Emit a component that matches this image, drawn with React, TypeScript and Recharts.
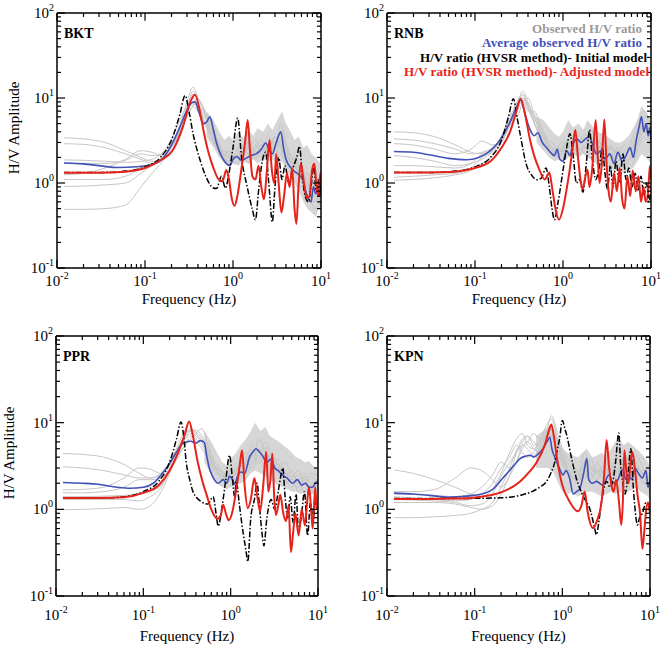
import React from 'react';
import { ComposedChart, Line, Area, XAxis, YAxis, ReferenceLine } from 'recharts';

// ---------- shared axis ticks ----------
const X_MAJOR = [0.01, 0.1, 1, 10];
const X_MINOR = [0.02, 0.03, 0.04, 0.05, 0.06, 0.07, 0.08, 0.09, 0.2, 0.3, 0.4, 0.5, 0.6, 0.7, 0.8, 0.9, 2, 3, 4, 5, 6, 7, 8, 9];
const X_EXP = ['-2', '-1', '0', '1'];
const Y_MAJOR = [0.1, 1, 10, 100];
const Y_MINOR = [0.2, 0.3, 0.4, 0.5, 0.6, 0.7, 0.8, 0.9, 2, 3, 4, 5, 6, 7, 8, 9, 20, 30, 40, 50, 60, 70, 80, 90];
const Y_EXP = ['-1', '0', '1', '2'];

// frequency grid of the individual observed curves
const GRID = [0.012, 0.02, 0.035, 0.06, 0.09, 0.12, 0.16, 0.2, 0.25, 0.3, 0.35, 0.4, 0.47, 0.55, 0.65, 0.75, 0.9, 1.05, 1.25, 1.5, 1.8, 2.1, 2.5, 3, 3.5, 4.2, 5, 6, 7, 8.3, 10];
// frequency grid of the dense observed envelope
const BAND_F = [0.5, 0.6, 0.7, 0.8, 0.9, 1.0, 1.15, 1.3, 1.5, 1.7, 1.9, 2.2, 2.5, 2.8, 3.2, 3.6, 4.0, 4.5, 5.0, 5.6, 6.3, 7.0, 7.8, 8.7, 9.5, 10];

// ---------- BKT ----------
const bktGray = [
  [3.4, 3.3, 3.0, 2.4, 2.0, 1.8, 2.0, 2.8, 4.5, 7.5, 12, 9, 6, 5.5, 3.5, 2.5, 2.2, 2.0, 2.5, 3.0, 2.2, 2.8, 2.4, 3.5, 2.8, 2.0, 1.6, 1.2, 0.9, 0.7, 0.8],
  [2.9, 2.85, 2.6, 2.2, 1.9, 1.7, 1.9, 2.6, 4.8, 9, 13.5, 10, 7, 4.5, 3.2, 2.4, 2.0, 2.6, 2.2, 2.6, 3.2, 2.4, 3.6, 2.5, 5.0, 2.4, 1.8, 1.4, 1.0, 0.8, 0.7],
  [1.87, 1.85, 1.8, 1.75, 1.8, 1.9, 2.3, 3.3, 5.5, 8, 9, 7.5, 5, 3.8, 2.8, 2.2, 1.8, 2.2, 2.8, 2.2, 2.6, 3.2, 2.2, 2.8, 3.8, 2.2, 1.5, 1.6, 0.9, 0.6, 0.9],
  [1.72, 1.7, 1.7, 1.85, 2.2, 2.1, 2.2, 3.0, 4.2, 6.5, 10, 8.5, 6.5, 4, 2.6, 2.0, 2.4, 1.7, 2.0, 3.0, 2.4, 2.0, 2.8, 3.0, 2.6, 1.8, 2.0, 1.3, 1.1, 0.5, 0.6],
  [1.25, 1.3, 1.5, 1.9, 2.4, 2.3, 2.1, 2.7, 4.0, 6, 8, 9, 7, 4.5, 3, 2.3, 2.0, 1.9, 2.4, 2.2, 1.9, 2.6, 3.0, 2.2, 3.2, 2.6, 1.6, 1.1, 0.8, 1.0, 0.6],
  [1.1, 1.1, 1.1, 1.2, 1.5, 1.7, 2.0, 2.8, 4.5, 7, 8.5, 8, 5.5, 3.5, 2.6, 2.2, 1.7, 2.2, 2.0, 2.7, 2.0, 2.3, 2.6, 3.5, 2.4, 2.1, 1.3, 1.5, 0.7, 0.9, 0.5],
  [0.91, 0.92, 0.95, 1.0, 1.3, 1.6, 2.0, 2.6, 4, 7.5, 11, 10, 7.5, 5, 3.2, 2.5, 2.2, 2.0, 2.3, 2.0, 2.8, 2.2, 2.0, 2.6, 3.0, 1.9, 1.7, 1.0, 1.3, 0.6, 0.8],
  [0.49, 0.49, 0.5, 0.55, 0.9, 1.3, 1.8, 2.6, 4.2, 6, 8, 7, 5.5, 4, 2.8, 2.1, 1.8, 1.9, 2.2, 1.7, 2.5, 2.8, 2.1, 2.4, 2.2, 1.6, 1.4, 1.2, 0.9, 0.7, 1.0],
];
const bktBandLow = [3.5, 2.6, 2.0, 1.7, 1.6, 1.7, 1.6, 1.8, 1.7, 1.9, 1.7, 1.9, 1.8, 1.9, 1.7, 1.8, 1.4, 1.2, 1.0, 0.8, 0.6, 0.5, 0.45, 0.4, 0.5, 0.5];
const bktBandHigh = [7, 5.5, 4, 3.2, 3.6, 3.2, 4.0, 3.4, 4.2, 3.6, 4.4, 4.0, 5.0, 4.2, 5.5, 7.0, 5.0, 4.0, 3.2, 3.5, 2.6, 2.8, 2.2, 2.0, 1.8, 1.6];
const bktBlue: number[][] = [[0.012, 1.72], [0.02, 1.68], [0.03, 1.6], [0.05, 1.52], [0.08, 1.55], [0.12, 1.65], [0.16, 1.95], [0.2, 2.8], [0.25, 4.6], [0.3, 7.2], [0.34, 8.8], [0.37, 9.0], [0.41, 6.8], [0.46, 5.0], [0.5, 5.2], [0.545, 6.0], [0.6, 4.2], [0.65, 2.95], [0.72, 2.2], [0.8, 1.8], [0.92, 1.6], [1.0, 1.9], [1.1, 2.05], [1.25, 1.85], [1.4, 1.95], [1.6, 2.1], [1.83, 2.2], [2.1, 2.5], [2.35, 2.95], [2.6, 2.4], [2.8, 2.2], [3.1, 3.0], [3.5, 4.0], [3.75, 2.6], [4.0, 1.9], [4.7, 1.45], [5.6, 1.25], [6.2, 1.1], [6.7, 0.8], [7.2, 0.65], [7.7, 0.6], [8.2, 0.9], [8.7, 0.75], [9.3, 0.85], [10, 0.8]];
const bktBlack: number[][] = [[0.012, 1.33], [0.03, 1.33], [0.06, 1.38], [0.1, 1.55], [0.15, 2.0], [0.2, 3.2], [0.25, 6.5], [0.285, 10.7], [0.32, 6.5], [0.35, 3.9], [0.42, 1.9], [0.5, 1.15], [0.59, 0.88], [0.65, 0.86], [0.74, 1.2], [0.82, 0.87], [0.9, 1.3], [1.0, 2.6], [1.13, 5.8], [1.25, 2.0], [1.45, 0.9], [1.65, 0.5], [1.8, 0.37], [1.95, 0.8], [2.15, 1.8], [2.35, 2.3], [2.55, 1.0], [2.8, 0.35], [3.0, 0.9], [3.3, 2.0], [3.6, 1.1], [3.9, 1.6], [4.3, 1.0], [4.8, 1.5], [5.3, 2.0], [5.7, 2.7], [6.1, 1.3], [6.6, 0.7], [7.2, 0.6], [7.7, 0.9], [8.3, 1.6], [8.8, 0.8], [9.3, 1.1], [9.7, 0.7], [10, 1.0]];
const bktRed: number[][] = [[0.012, 1.32], [0.03, 1.32], [0.06, 1.36], [0.1, 1.5], [0.15, 1.85], [0.21, 2.5], [0.27, 4.6], [0.32, 8.5], [0.37, 10.9], [0.42, 7], [0.47, 3.8], [0.52, 2.4], [0.6, 1.5], [0.68, 1.12], [0.76, 1.05], [0.84, 1.42], [0.9, 1.1], [0.97, 0.65], [1.04, 0.54], [1.12, 0.7], [1.25, 1.5], [1.38, 3.2], [1.47, 5.5], [1.56, 2.4], [1.66, 1.2], [1.8, 1.1], [1.95, 1.6], [2.1, 0.9], [2.25, 0.64], [2.4, 1.2], [2.6, 3.2], [2.75, 1.5], [2.95, 1.0], [3.1, 2.2], [3.3, 1.0], [3.55, 0.45], [3.8, 0.7], [4.1, 1.3], [4.4, 0.9], [4.7, 1.5], [5.0, 0.5], [5.25, 0.33], [5.55, 0.9], [5.9, 1.7], [6.4, 1.0], [6.9, 0.66], [7.4, 0.7], [7.9, 1.4], [8.4, 1.7], [8.9, 0.9], [9.4, 0.7], [9.8, 1.3], [10, 1.0]];

// ---------- RNB ----------
const rnbGray = [
  [4.0, 3.9, 3.5, 2.8, 2.3, 2.2, 2.5, 3.6, 6, 9, 11, 8, 5.5, 4.5, 3.2, 2.6, 2.4, 2.8, 3.4, 3.0, 3.8, 2.6, 3.2, 2.4, 2.6, 2.2, 2.8, 2.4, 3.5, 5.5, 3.5],
  [3.3, 3.2, 2.9, 2.5, 2.2, 2.3, 2.6, 3.5, 5.5, 8.5, 12, 9, 6, 4, 3, 2.4, 2.8, 3.2, 2.6, 3.6, 3.0, 4.2, 2.6, 3.0, 2.0, 2.6, 2.0, 3.2, 5, 7, 4],
  [2.9, 2.8, 2.5, 2.2, 2.5, 3.1, 2.8, 3.2, 5, 7, 9.5, 7, 7, 5, 3.4, 3.0, 2.5, 2.3, 3.0, 2.5, 2.8, 3.4, 2.2, 2.8, 2.4, 1.8, 2.4, 2.8, 4.2, 6, 5],
  [2.1, 2.0, 1.8, 1.6, 1.7, 1.9, 2.4, 3.4, 5.5, 8, 10, 7.5, 5, 3.5, 2.8, 2.2, 2.6, 2.4, 2.8, 3.2, 2.6, 3.0, 2.4, 2.0, 2.6, 2.2, 1.6, 2.2, 3, 4.5, 3],
  [1.6, 1.6, 1.55, 1.5, 1.7, 2.2, 2.6, 3, 5, 8, 11, 8, 6, 4.2, 3.0, 2.6, 2.0, 2.6, 2.2, 2.8, 3.4, 2.4, 3.0, 2.6, 2.0, 2.4, 2.0, 1.6, 2.4, 3.5, 2.6],
  [1.17, 1.2, 1.25, 1.3, 1.5, 2, 2.4, 3.2, 6.5, 6, 9, 10, 6.5, 4.8, 3.2, 2.4, 2.2, 3.0, 2.4, 2.6, 2.2, 3.0, 2.6, 2.2, 2.8, 1.8, 2.2, 2.6, 3.5, 5, 3.8],
  [1.08, 1.1, 1.15, 1.25, 1.4, 1.7, 2.1, 3, 4.8, 7.5, 10, 8.5, 5.2, 3.6, 2.6, 2.2, 2.0, 2.4, 3.2, 2.2, 2.6, 2.2, 2.8, 2.0, 2.2, 1.6, 1.8, 2.0, 2.8, 4, 2.8],
];
const rnbBandLow = [3, 2.4, 2.0, 1.8, 1.9, 1.8, 2.0, 2.2, 2.0, 2.2, 2.0, 1.8, 1.6, 1.6, 1.5, 1.4, 1.4, 1.3, 1.3, 1.4, 1.5, 1.8, 2.2, 2.0, 1.8, 1.6];
const rnbBandHigh = [6, 5.5, 4.5, 3.8, 3.5, 4.0, 5.5, 4.5, 5.0, 4.2, 5.5, 4.5, 4.0, 3.8, 3.5, 3.2, 3.0, 3.0, 3.2, 3.6, 4.5, 5.5, 8.0, 7.0, 6.0, 5.0];
const rnbBlue: number[][] = [[0.012, 2.35], [0.02, 2.3], [0.03, 2.15], [0.05, 1.95], [0.08, 1.88], [0.11, 2.0], [0.15, 2.4], [0.2, 3.4], [0.25, 5.2], [0.3, 8], [0.33, 9.5], [0.37, 6.5], [0.42, 4.3], [0.47, 3.6], [0.52, 3.9], [0.58, 3.0], [0.65, 2.6], [0.72, 2.3], [0.8, 2.1], [0.86, 2.5], [0.92, 1.9], [1.0, 1.8], [1.1, 2.4], [1.2, 2.1], [1.3, 2.9], [1.45, 3.3], [1.6, 3.0], [1.8, 3.3], [2.0, 3.5], [2.2, 2.7], [2.4, 2.2], [2.7, 2.4], [3.0, 1.9], [3.4, 2.2], [3.8, 1.7], [4.2, 2.3], [4.7, 1.8], [5.2, 2.1], [5.8, 2.6], [6.3, 2.0], [6.8, 3.2], [7.3, 4.5], [7.8, 6.0], [8.3, 4.0], [8.8, 5.0], [9.3, 3.6], [9.7, 4.5], [10, 3.2]];
const rnbBlack: number[][] = [[0.012, 1.33], [0.03, 1.33], [0.06, 1.38], [0.1, 1.55], [0.15, 2.0], [0.2, 3.2], [0.24, 6], [0.273, 9.8], [0.3, 6], [0.33, 3.5], [0.38, 1.7], [0.45, 1.2], [0.5, 1.09], [0.57, 1.15], [0.64, 1.5], [0.7, 0.9], [0.75, 0.5], [0.8, 0.37], [0.88, 0.6], [1.0, 1.4], [1.1, 2.6], [1.2, 3.8], [1.3, 2.2], [1.42, 1.0], [1.55, 1.1], [1.68, 0.78], [1.85, 1.8], [2.0, 4.2], [2.15, 2.0], [2.35, 1.1], [2.6, 1.6], [2.8, 2.6], [3.0, 1.3], [3.2, 0.85], [3.45, 1.6], [3.7, 0.9], [4.0, 1.8], [4.4, 1.0], [4.8, 2.2], [5.2, 1.1], [5.6, 1.5], [6.1, 0.9], [6.6, 1.3], [7.1, 0.8], [7.7, 1.2], [8.3, 0.7], [8.9, 1.0], [9.5, 0.6], [10, 0.9]];
const rnbRed: number[][] = [[0.012, 1.33], [0.03, 1.33], [0.06, 1.36], [0.1, 1.5], [0.15, 1.8], [0.2, 2.6], [0.25, 4], [0.29, 6.5], [0.33, 9.8], [0.37, 6.5], [0.42, 3.3], [0.47, 2.1], [0.53, 1.5], [0.62, 1.1], [0.7, 1.33], [0.75, 0.9], [0.82, 0.5], [0.9, 0.37], [1.0, 0.5], [1.1, 0.85], [1.2, 1.5], [1.3, 2.8], [1.38, 4.2], [1.48, 2.0], [1.6, 1.0], [1.67, 0.84], [1.8, 1.2], [1.9, 1.43], [2.0, 0.9], [2.15, 1.5], [2.35, 5.5], [2.5, 1.8], [2.6, 1.0], [2.75, 1.6], [2.95, 5.6], [3.1, 2.0], [3.3, 0.8], [3.5, 0.6], [3.8, 1.3], [4.1, 0.8], [4.4, 1.5], [4.7, 0.65], [5.0, 0.5], [5.4, 1.2], [5.8, 0.7], [6.2, 1.4], [6.7, 0.8], [7.2, 1.2], [7.7, 0.6], [8.2, 0.9], [8.7, 0.6], [9.3, 0.8], [9.7, 1.6], [10, 1.1]];

// ---------- PPR ----------
const pprGray = [
  [4.4, 4.3, 4.0, 3.3, 2.6, 2.3, 2.5, 3.3, 5, 7, 8.5, 7.5, 6, 4.5, 3.2, 2.5, 2.3, 2.8, 3.2, 4, 5.5, 4.5, 6, 4, 3.2, 2.6, 2.4, 2.8, 2.2, 2.6, 2.4],
  [3.1, 3.0, 2.8, 2.5, 2.3, 2.3, 2.6, 3.5, 5.5, 8, 8, 6.5, 5.5, 4.2, 3.0, 2.8, 2.6, 3.0, 3.6, 4.5, 3.5, 6.5, 4.5, 3.5, 2.8, 3.5, 2.5, 2.2, 2.6, 2.0, 2.2],
  [1.68, 1.7, 1.8, 2.3, 3.0, 2.9, 2.6, 3.2, 4.6, 6.5, 7.5, 8.2, 7, 5, 3.3, 2.8, 2.5, 2.6, 3.0, 3.6, 4.8, 3.8, 5.2, 3.2, 3.8, 2.8, 2.2, 2.5, 2.0, 2.4, 1.9],
  [1.55, 1.55, 1.6, 1.8, 2.2, 2.2, 2.3, 3.0, 4.2, 5.5, 6.5, 7.5, 8.5, 5.5, 3.6, 3.0, 2.2, 2.8, 2.6, 3.2, 4.0, 5.0, 3.5, 4.5, 3.0, 2.4, 2.8, 2.0, 2.2, 1.7, 2.0],
  [1.4, 1.4, 1.42, 1.45, 1.5, 1.6, 1.9, 2.7, 4, 5.5, 7, 6, 5, 3.8, 2.8, 2.4, 2.0, 2.4, 2.8, 2.6, 3.5, 4.2, 3.0, 3.6, 2.6, 2.2, 1.8, 2.2, 1.6, 1.9, 1.5],
  [0.99, 1.0, 1.02, 1.05, 1.0, 1.1, 1.6, 2.6, 4.5, 6.5, 8, 7, 6, 4.2, 3.0, 2.6, 2.2, 2.2, 3.2, 3.0, 4.2, 3.4, 4.5, 3.0, 2.8, 2.6, 2.0, 1.8, 2.4, 1.6, 1.8],
  [1.3, 1.3, 1.3, 1.3, 1.25, 1.4, 1.8, 2.8, 5, 7, 8.5, 7.8, 6.5, 4.5, 3.2, 2.5, 2.4, 2.6, 2.4, 3.6, 3.0, 4.6, 3.6, 2.8, 3.4, 2.0, 2.2, 1.6, 2.0, 1.5, 2.3],
];
const pprBandLow = [3.5, 2.5, 2.0, 1.8, 1.7, 1.8, 1.9, 2.0, 2.2, 2.6, 2.8, 2.6, 2.4, 2.2, 2.0, 1.9, 1.8, 1.7, 1.6, 1.6, 1.5, 1.6, 1.5, 1.5, 1.6, 1.6];
const pprBandHigh = [8, 6, 4.5, 3.5, 3.2, 3.8, 4.5, 5.5, 6.5, 8, 10, 8, 9, 7, 6.5, 6, 5.5, 5, 4.5, 4, 3.8, 3.5, 3.6, 3.2, 3, 2.8];
const pprBlue: number[][] = [[0.012, 2.04], [0.02, 2.0], [0.03, 1.95], [0.05, 1.8], [0.07, 1.75], [0.1, 1.8], [0.13, 2.0], [0.16, 2.5], [0.2, 3.4], [0.24, 4.6], [0.27, 5.5], [0.3, 5.9], [0.35, 6.1], [0.4, 5.8], [0.45, 6.2], [0.5, 5.9], [0.53, 4.2], [0.57, 3.0], [0.62, 2.4], [0.72, 2.0], [0.82, 2.2], [0.9, 2.0], [0.97, 2.4], [1.05, 2.2], [1.11, 1.95], [1.2, 2.4], [1.3, 2.7], [1.45, 2.6], [1.63, 3.9], [1.8, 4.6], [1.95, 5.0], [2.1, 4.7], [2.3, 4.2], [2.6, 3.5], [2.9, 3.8], [3.2, 3.0], [3.5, 2.8], [3.9, 2.5], [4.4, 2.3], [5.1, 2.0], [5.8, 2.2], [6.5, 1.9], [7.2, 2.0], [7.9, 1.8], [8.6, 1.8], [9.3, 2.0], [10, 2.1]];
const pprBlack: number[][] = [[0.012, 1.35], [0.03, 1.35], [0.06, 1.4], [0.1, 1.6], [0.15, 2.1], [0.2, 3.5], [0.24, 6.5], [0.27, 10.2], [0.29, 7], [0.31, 3.5], [0.34, 2.2], [0.37, 1.6], [0.46, 1.23], [0.55, 1.15], [0.63, 1.4], [0.68, 0.9], [0.72, 0.64], [0.8, 1.1], [0.88, 2.2], [0.97, 4.2], [1.05, 2.2], [1.11, 1.4], [1.16, 2.1], [1.25, 1.2], [1.33, 0.73], [1.5, 0.33], [1.57, 0.25], [1.7, 0.8], [1.87, 1.3], [2.0, 2.0], [2.15, 1.0], [2.3, 0.5], [2.4, 0.38], [2.6, 0.8], [2.9, 1.3], [3.2, 1.0], [3.5, 1.6], [3.8, 2.6], [3.95, 3.0], [4.2, 1.4], [4.5, 0.8], [4.8, 1.4], [5.2, 0.7], [5.6, 1.5], [6.0, 0.55], [6.5, 0.9], [7.0, 1.6], [7.6, 0.5], [8.2, 1.2], [8.8, 0.8], [9.4, 1.2], [10, 0.9]];
const pprRed: number[][] = [[0.012, 1.35], [0.03, 1.35], [0.06, 1.38], [0.1, 1.55], [0.15, 1.9], [0.2, 2.8], [0.25, 4.5], [0.3, 7.5], [0.335, 10.3], [0.37, 7], [0.42, 3.5], [0.47, 2.2], [0.53, 1.47], [0.6, 1.0], [0.7, 0.78], [0.77, 0.85], [0.82, 1.13], [0.88, 0.9], [0.95, 0.75], [1.05, 0.95], [1.15, 1.6], [1.27, 3.2], [1.35, 4.8], [1.45, 1.8], [1.57, 1.03], [1.7, 1.3], [1.87, 2.3], [2.0, 1.5], [2.17, 0.95], [2.35, 1.8], [2.55, 4.6], [2.7, 1.6], [2.85, 2.2], [3.0, 4.4], [3.15, 1.4], [3.3, 0.86], [3.5, 1.1], [3.7, 1.47], [4.0, 0.9], [4.3, 0.73], [4.6, 1.1], [4.9, 0.32], [5.2, 0.55], [5.5, 0.9], [6.0, 0.5], [6.5, 1.0], [7.1, 0.65], [7.5, 1.2], [7.9, 1.8], [8.4, 0.9], [8.7, 0.6], [9.3, 1.8], [9.7, 1.0], [10, 1.2]];

// ---------- KPN ----------
const kpnGray = [
  [2.85, 2.6, 2.2, 1.8, 1.5, 1.4, 1.7, 2.6, 4.5, 6.5, 7.5, 5.5, 5, 6, 7, 8, 5, 3.5, 2.5, 2.2, 3.5, 2.4, 2.8, 2.4, 3.2, 2.6, 3.0, 3.5, 2.6, 2.2, 1.6],
  [1.6, 1.6, 1.7, 2.3, 3.0, 2.8, 2.2, 1.8, 2.5, 4.5, 6.5, 7, 5.5, 6, 8, 7, 4.5, 3, 2.8, 2.4, 4.5, 3, 2.6, 3.2, 2.8, 4, 3.2, 4.5, 3.5, 2.4, 2.0],
  [1.5, 1.48, 1.45, 1.4, 1.5, 1.8, 2.5, 3.5, 3.0, 3.5, 5, 6, 7.5, 6.5, 9, 11, 6, 4, 3, 2.5, 3.0, 2.6, 3.4, 2.6, 2.2, 3.5, 2.6, 3.0, 4.2, 3.0, 2.2],
  [1.4, 1.35, 1.3, 1.25, 1.3, 1.5, 2.0, 3.0, 4, 5.5, 4.5, 4, 4.5, 6, 7.5, 12, 7, 4.5, 3.5, 2.6, 2.4, 3.8, 2.4, 2.8, 3.6, 2.4, 4, 2.6, 3, 2.6, 1.8],
  [1.3, 1.28, 1.25, 1.2, 1.1, 1.15, 1.5, 2.4, 3.5, 4.5, 5.5, 5.0, 4.2, 5, 7, 9, 6, 3.8, 2.6, 2.8, 2.2, 3, 2.8, 2.2, 2.6, 3.0, 2.4, 3.2, 2.4, 2.8, 2.4],
  [1.2, 1.2, 1.2, 1.15, 1.05, 1.0, 1.1, 1.5, 2.4, 3.5, 5.5, 6, 5, 4.5, 6, 7, 5.5, 3.5, 2.4, 2.2, 2.6, 2.2, 3, 2.6, 3.0, 2.2, 2.6, 2.8, 2.2, 2.6, 1.6],
  [0.8, 0.8, 0.82, 0.85, 0.9, 1.0, 1.2, 1.8, 3.0, 4.8, 6, 7, 6, 5.5, 7, 8.5, 5, 3.2, 2.6, 2.0, 2.8, 2.6, 2.2, 3.0, 2.4, 2.8, 2.2, 2.4, 3.0, 2.0, 2.4],
];
const kpnBandLow = [3, 3, 3, 2.6, 2.0, 1.6, 1.5, 1.6, 1.4, 1.5, 1.6, 1.6, 1.5, 1.4, 1.5, 1.6, 1.5, 1.6, 1.5, 1.6, 1.7, 1.8, 1.6, 1.5, 1.4, 1.3];
const kpnBandHigh = [7, 8, 9, 8, 6, 5, 4.5, 4.2, 4.0, 4.5, 5.0, 4.0, 4.2, 4.5, 4.0, 5.0, 6, 6.5, 5.5, 6.0, 5.5, 5.0, 4.5, 4.0, 3.5, 3.0];
const kpnBlue: number[][] = [[0.012, 1.54], [0.02, 1.5], [0.03, 1.45], [0.05, 1.38], [0.08, 1.42], [0.12, 1.5], [0.16, 1.7], [0.21, 2.3], [0.25, 2.8], [0.28, 3.2], [0.33, 3.85], [0.38, 4.1], [0.43, 4.2], [0.47, 4.0], [0.51, 4.2], [0.6, 5.0], [0.68, 6.2], [0.72, 6.8], [0.76, 5.0], [0.82, 4.0], [0.9, 3.2], [1.02, 2.5], [1.1, 2.8], [1.21, 2.3], [1.33, 1.5], [1.45, 1.6], [1.57, 1.7], [1.75, 2.6], [1.9, 3.85], [2.0, 2.2], [2.2, 2.0], [2.45, 2.1], [2.9, 1.9], [3.4, 2.5], [3.8, 2.0], [4.2, 2.1], [4.9, 2.9], [5.3, 2.2], [5.7, 2.5], [6.2, 2.2], [6.7, 3.0], [7.4, 2.6], [8.2, 2.3], [9.0, 2.8], [9.5, 1.8], [10, 2.2]];
const kpnBlack: number[][] = [[0.012, 1.33], [0.03, 1.33], [0.06, 1.33], [0.1, 1.34], [0.2, 1.36], [0.33, 1.45], [0.45, 1.6], [0.55, 1.8], [0.66, 2.1], [0.75, 2.7], [0.82, 3.5], [0.88, 5], [0.93, 6.5], [1.0, 10.6], [1.07, 8.5], [1.15, 6.5], [1.21, 5.0], [1.32, 3.3], [1.44, 2.3], [1.7, 1.47], [2.1, 0.95], [2.3, 0.65], [2.45, 0.51], [2.6, 0.7], [2.77, 1.13], [3.0, 1.8], [3.2, 2.1], [3.5, 1.8], [3.8, 2.2], [4.05, 3.5], [4.4, 7.6], [4.65, 3.0], [4.9, 2.0], [5.2, 1.5], [5.6, 2.5], [6.05, 5.0], [6.4, 2.0], [6.7, 1.1], [7.2, 0.66], [7.6, 0.8], [8.2, 0.9], [9.0, 1.2], [10, 1.0]];
const kpnRed: number[][] = [[0.012, 1.32], [0.03, 1.32], [0.06, 1.33], [0.09, 1.35], [0.15, 1.45], [0.21, 1.6], [0.33, 2.1], [0.42, 2.7], [0.51, 3.5], [0.63, 5.5], [0.7, 8], [0.75, 9.5], [0.8, 7], [0.86, 4.2], [0.93, 2.6], [1.0, 1.9], [1.21, 1.23], [1.5, 0.95], [1.65, 1.1], [1.8, 1.6], [1.94, 0.95], [2.23, 0.61], [2.5, 0.75], [2.77, 1.13], [3.0, 2.5], [3.2, 6.3], [3.4, 3.2], [3.6, 2.0], [3.85, 1.6], [4.1, 2.2], [4.4, 1.3], [4.7, 0.66], [4.9, 1.2], [5.1, 4.8], [5.4, 2.6], [5.7, 2.0], [6.0, 3.5], [6.3, 4.6], [6.7, 3.0], [7.2, 1.47], [7.7, 0.9], [8.2, 0.35], [8.6, 0.55], [9.0, 0.95], [9.5, 1.2], [10, 0.9]];

// ---------- legend / labels ----------
const LEGEND = ['Observed H/V ratio', 'Average observed H/V ratio', 'H/V ratio (HVSR method)- Initial model', 'H/V ratio (HVSR method)- Adjusted model'];
const X_TITLE = 'Frequency (Hz)';
const Y_TITLE = 'H/V Amplitude';

const SERIF = '"Liberation Serif", "Times New Roman", serif';
const C_GRAY = '#c6c6c6';
const C_BAND = '#d6d6d6';
const C_BLUE = '#4151b8';
const C_RED = '#e6231b';

const toPts = (arr: number[][]) => arr.map(([f, a]) => ({ f, a }));
const grayPts = (vals: number[]) => GRID.map((f, i) => ({ f, a: vals[i] }));
const bandPts = (lo: number[], hi: number[]) => BAND_F.map((f, i) => ({ f, r: [lo[i], hi[i]] }));
const majorIndex = (list: number[], v: number) => list.findIndex((m) => Math.abs(m - v) / m < 1e-6);

interface Spec {
  name: string;
  x: number; y: number; w: number; h: number;
  gray: number[][]; bandLow: number[]; bandHigh: number[];
  blue: number[][]; black: number[][]; red: number[][];
  tickGap: number; titleGap: number;
}

const SPECS: Spec[] = [
  { name: 'BKT', x: 56, y: 12, w: 266, h: 257, gray: bktGray, bandLow: bktBandLow, bandHigh: bktBandHigh, blue: bktBlue, black: bktBlack, red: bktRed, tickGap: 18, titleGap: 35 },
  { name: 'RNB', x: 386, y: 12, w: 266, h: 257, gray: rnbGray, bandLow: rnbBandLow, bandHigh: rnbBandHigh, blue: rnbBlue, black: rnbBlack, red: rnbRed, tickGap: 18, titleGap: 35 },
  { name: 'PPR', x: 55, y: 335, w: 264, h: 262, gray: pprGray, bandLow: pprBandLow, bandHigh: pprBandHigh, blue: pprBlue, black: pprBlack, red: pprRed, tickGap: 24, titleGap: 44 },
  { name: 'KPN', x: 386, y: 335, w: 265, h: 262, gray: kpnGray, bandLow: kpnBandLow, bandHigh: kpnBandHigh, blue: kpnBlue, black: kpnBlack, red: kpnRed, tickGap: 24, titleGap: 44 },
];

const XD: [number, number] = [0.01, 10];
const YD: [number, number] = [0.1, 100];
const FRAME = { stroke: '#000', strokeWidth: 1.5 };
// inward tick lengths expressed as ratios on the log axes (~8 px major, ~4 px minor)
const K_MAJ = 1.235;
const K_MIN = 1.112;

type Seg = { key: string; seg: [{ x: number; y: number }, { x: number; y: number }] };
const tickSegments = (): Seg[] => {
  const out: Seg[] = [];
  const xs = [...X_MAJOR.map((v) => [v, K_MAJ]), ...X_MINOR.map((v) => [v, K_MIN])];
  xs.forEach(([v, k]) => {
    out.push({ key: 'b' + v, seg: [{ x: v, y: YD[0] }, { x: v, y: YD[0] * k }] });
    out.push({ key: 't' + v, seg: [{ x: v, y: YD[1] / k }, { x: v, y: YD[1] }] });
  });
  const ys = [...Y_MAJOR.map((v) => [v, K_MAJ]), ...Y_MINOR.map((v) => [v, K_MIN])];
  ys.forEach(([v, k]) => {
    out.push({ key: 'l' + v, seg: [{ x: XD[0], y: v }, { x: XD[0] * k, y: v }] });
    out.push({ key: 'r' + v, seg: [{ x: XD[1] / k, y: v }, { x: XD[1], y: v }] });
  });
  return out;
};
const TICK_SEGS = tickSegments();

function Panel({ s }: { s: Spec }) {
  const padL = 50, padT = 16, padR = 20, padB = 50;
  const W = s.w + padL + padR;
  const H = s.h + padT + padB;
  const xLabel = (p: any) => {
    const idx = majorIndex(X_MAJOR, p.payload.value);
    if (idx < 0) return <g />;
    return (
      <text x={p.x} y={Number(p.y) + s.tickGap} textAnchor="middle" fontFamily={SERIF} fontSize={15} fill="#000">
        10<tspan dy={-7} fontSize={10}>{X_EXP[idx]}</tspan>
      </text>
    );
  };
  const yLabel = (p: any) => {
    const idx = majorIndex(Y_MAJOR, p.payload.value);
    if (idx < 0) return <g />;
    return (
      <text x={Number(p.x) - 3} y={Number(p.y) + 5} textAnchor="end" fontFamily={SERIF} fontSize={15} fill="#000">
        10<tspan dy={-7} fontSize={10}>{Y_EXP[idx]}</tspan>
      </text>
    );
  };
  const common = { type: 'number' as const, scale: 'log' as const, allowDataOverflow: true, interval: 0 as const, tickLine: false, tickSize: 0, tickMargin: 0 };
  return (
    <div style={{ position: 'absolute', left: s.x - padL, top: s.y - padT, width: W, height: H }}>
      <ComposedChart width={W} height={H} margin={{ top: padT, right: padR, bottom: padB, left: padL }}>
        <XAxis xAxisId={0} {...common} dataKey="f" domain={XD} ticks={X_MAJOR} height={1} axisLine={FRAME} tick={xLabel} />
        <XAxis xAxisId="top" {...common} orientation="top" domain={XD} ticks={X_MAJOR} height={1} axisLine={FRAME} tick={() => <g />} />
        <YAxis yAxisId={0} {...common} domain={YD} ticks={Y_MAJOR} width={1} axisLine={FRAME} tick={yLabel} />
        <YAxis yAxisId="right" {...common} orientation="right" domain={YD} ticks={Y_MAJOR} width={1} axisLine={FRAME} tick={() => <g />} />
        <Area data={bandPts(s.bandLow, s.bandHigh)} dataKey="r" type="linear" stroke="none" fill={C_BAND} fillOpacity={1} isAnimationActive={false} />
        {s.gray.map((g, i) => (
          <Line key={'g' + i} data={grayPts(g)} dataKey="a" type="monotone" stroke={C_GRAY} strokeWidth={1} dot={false} isAnimationActive={false} />
        ))}
        <Line data={toPts(s.blue)} dataKey="a" type="monotone" stroke={C_BLUE} strokeWidth={1.6} dot={false} isAnimationActive={false} />
        <Line data={toPts(s.black)} dataKey="a" type="monotone" stroke="#000" strokeWidth={1.5} strokeDasharray="6 2 1.5 2" dot={false} isAnimationActive={false} />
        <Line data={toPts(s.red)} dataKey="a" type="monotone" stroke={C_RED} strokeWidth={2} dot={false} isAnimationActive={false} />
        {TICK_SEGS.map((t) => (
          <ReferenceLine key={t.key} segment={t.seg} stroke="#000" strokeWidth={1.2} ifOverflow="visible" />
        ))}
      </ComposedChart>
    </div>
  );
}

export default function App() {
  return (
    <div style={{ position: 'absolute', left: 0, top: 0, width: 662, height: 649, background: '#fff' }}>
      {SPECS.map((s) => <Panel key={s.name} s={s} />)}
      <svg width={662} height={649} style={{ position: 'absolute', left: 0, top: 0, pointerEvents: 'none' }}>
        {SPECS.map((s) => (
          <g key={s.name}>
            <text x={s.x + 8} y={s.y + 26} fontFamily={SERIF} fontWeight="bold" fontSize={14} fill="#000">{s.name}</text>
            <text x={s.x + s.w / 2} y={s.y + s.h + s.titleGap} textAnchor="middle" fontFamily={SERIF} fontSize={15} fill="#000">{X_TITLE}</text>
          </g>
        ))}
        <text transform="translate(19,128) rotate(-90)" textAnchor="middle" fontFamily={SERIF} fontSize={15} fill="#000">{Y_TITLE}</text>
        <text transform="translate(14,453) rotate(-90)" textAnchor="middle" fontFamily={SERIF} fontSize={15} fill="#000">{Y_TITLE}</text>
        <g fontFamily={SERIF} fontWeight="bold" fontSize={13}>
          <text x={532} y={33} textLength={110} lengthAdjust="spacing" fill="#9a9a9a">{LEGEND[0]}</text>
          <text x={482} y={47} textLength={160} lengthAdjust="spacing" fill={C_BLUE}>{LEGEND[1]}</text>
          <text x={420} y={62} textLength={227} lengthAdjust="spacing" fill="#000">{LEGEND[2]}</text>
          <text x={404} y={76} textLength={245} lengthAdjust="spacing" fill={C_RED}>{LEGEND[3]}</text>
        </g>
      </svg>
    </div>
  );
}
